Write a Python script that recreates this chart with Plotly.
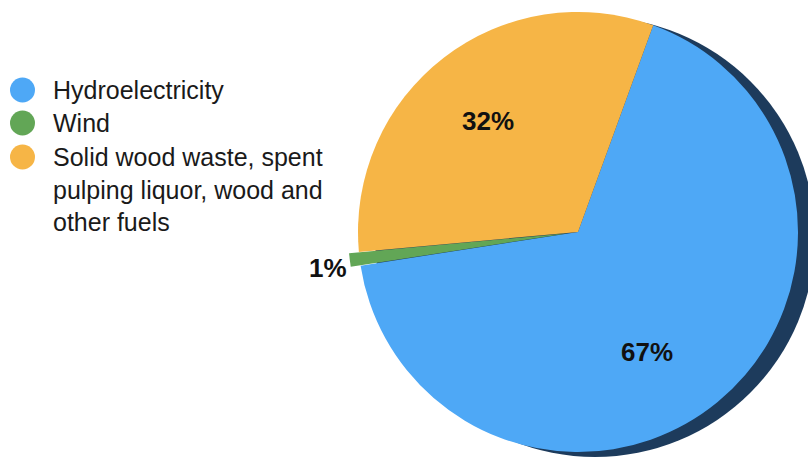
import plotly.graph_objects as go

# Electricity generation by source (share of total, %)
labels = ["Hydroelectricity", "Wind",
          "Solid wood waste, spent pulping liquor, wood and other fuels"]
legend_text = ["Hydroelectricity", "Wind",
               "Solid wood waste, spent<br>pulping liquor, wood and<br>other fuels"]
values = [67, 1, 32]
colors = ["#4ea8f6", "#62a656", "#f6b546"]
pulls = [0, 0.045, 0]
label_xy = [(647, 352), (349, 268), (488, 121)]   # percent label anchors, px
label_anchor = ["center", "right", "center"]

W, H = 808, 464
FONT = "Liberation Sans, Arial, sans-serif"

# pie disc geometry in pixels (domain enlarged to offset the pull shrink)
cx, cy, r = 578, 232, 220
rd = r * (1 + max(pulls))


def clamp(v):
    return min(1.0, max(0.0, v))


fig = go.Figure()

fig.add_trace(go.Pie(
    labels=labels,
    values=values,
    sort=False,
    direction="clockwise",
    rotation=20,
    pull=pulls,
    marker=dict(colors=colors, line=dict(width=0)),
    textinfo="none",
    domain=dict(x=[clamp((cx - rd) / W), clamp((cx + rd) / W)],
                y=[clamp(1 - (cy + rd) / H), clamp(1 - (cy - rd) / H)]),
    showlegend=False,
    hoverinfo="label+percent",
))

# percentage labels
for v, (lx, ly), anc in zip(values, label_xy, label_anchor):
    fig.add_annotation(x=lx / W, y=1 - ly / H, xref="paper", yref="paper",
                       xanchor=anc, yanchor="middle", showarrow=False,
                       text=f"{v}%",
                       font=dict(family=FONT, size=26, color="#111111",
                                 weight="bold"))

# dark rim giving the disc some depth
rx, ry = cx + 17, cy + 5
fig.add_shape(type="circle", xref="paper", yref="paper", layer="below",
              x0=(rx - r) / W, x1=(rx + r) / W,
              y0=1 - (ry + r) / H, y1=1 - (ry - r) / H,
              fillcolor="#1d3b5c", line=dict(width=0))

# legend: coloured dots with labels
legend_y = [90, 123, 157]
for txt, col, y in zip(legend_text, colors, legend_y):
    fig.add_shape(type="circle", xref="paper", yref="paper",
                  x0=10 / W, x1=35 / W,
                  y0=1 - (y + 12.5) / H, y1=1 - (y - 12.5) / H,
                  fillcolor=col, line=dict(width=0))
    fig.add_annotation(x=51 / W, y=1 - (y - 16) / H, xref="paper", yref="paper",
                       xanchor="left", yanchor="top", align="left",
                       text=txt, showarrow=False,
                       font=dict(family=FONT, size=25, color="#1a1a1a"))

fig.update_layout(
    width=W, height=H,
    margin=dict(l=0, r=0, t=0, b=0),
    paper_bgcolor="white",
    plot_bgcolor="white",
)

fig.write_html("out.html")
